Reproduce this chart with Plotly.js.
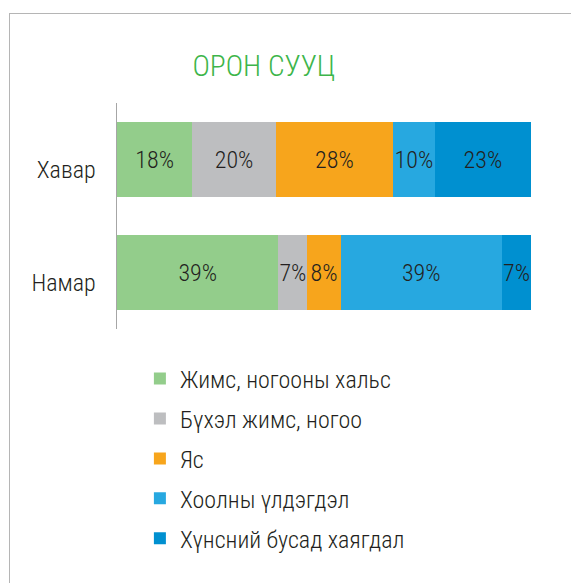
<!DOCTYPE html>
<html>
<head>
<meta charset="utf-8">
<script src="https://cdn.plot.ly/plotly-3.0.1.min.js"></script>
<style>
  html, body { margin: 0; padding: 0; background: #fff; }
  #wrap { position: relative; width: 571px; height: 583px; overflow: hidden; }
  #frame { position: absolute; left: 9px; top: 13px; width: 600px; height: 600px;
           border-top: 1px solid #b5b5b5; border-left: 1px solid #b5b5b5; pointer-events: none; }
  #chart { position: absolute; left: 0; top: 0; width: 571px; height: 583px; }
</style>
</head>
<body>
<div id="wrap">
  <div id="chart"></div>
  <div id="frame"></div>
</div>
<script>
const categories = ['Хавар', 'Намар'];
const seriesNames = ['Жимс, ногооны хальс', 'Бүхэл жимс, ногоо', 'Яс', 'Хоолны үлдэгдэл', 'Хүнсний бусад хаягдал'];
const fruitPeel = [18, 39];
const wholeFruit = [20, 7];
const bones = [28, 8];
const leftovers = [10, 39];
const otherFood = [23, 7];
const colors = ['#93cd8b', '#bdbec0', '#f7a51c', '#27a8e0', '#0090d0'];

const seriesValues = [fruitPeel, wholeFruit, bones, leftovers, otherFood];
const FONT = '"Roboto Condensed", "Open Sans", sans-serif';

const traces = seriesValues.map((vals, i) => ({
  type: 'bar',
  orientation: 'h',
  name: seriesNames[i],
  legendgroup: 'g' + i,
  y: categories,
  x: vals,
  text: vals.map(v => v + '%'),
  textposition: 'inside',
  insidetextanchor: 'middle',
  textangle: 0,
  constraintext: 'none',
  textfont: { family: FONT, size: 24, weight: 300, color: '#231f20' },
  marker: { color: colors[i], line: { width: 0 } },
  hoverinfo: 'none'
}));

const layout = {
  width: 571,
  height: 583,
  margin: { l: 117, r: 40, t: 103, b: 254, autoexpand: false },
  paper_bgcolor: '#ffffff',
  plot_bgcolor: '#ffffff',
  barmode: 'stack',
  barnorm: 'percent',
  bargap: 0.335,
  title: {
    text: 'ОРОН СУУЦ',
    font: { family: FONT, size: 29.5, weight: 300, color: '#3db54a' },
    x: 0.462, xref: 'container', xanchor: 'center',
    y: 0.887, yref: 'container', yanchor: 'middle'
  },
  xaxis: {
    range: [0, 100],
    showgrid: false, zeroline: false, showline: false,
    showticklabels: false, ticks: ''
  },
  yaxis: {
    autorange: 'reversed',
    automargin: false,
    showgrid: false, zeroline: false,
    showline: true, linecolor: '#a6a6a6', linewidth: 1.5,
    ticks: '', ticklabelstandoff: 15, ticklabelshift: -10,
    tickfont: { family: FONT, size: 24, weight: 300, color: '#231f20' }
  },
  showlegend: true,
  legend: {
    orientation: 'v',
    traceorder: 'grouped',
    tracegroupgap: 5.7,
    xref: 'container', yref: 'container',
    x: 0.245, xanchor: 'left',
    y: 0.3885, yanchor: 'top',
    font: { family: FONT, size: 24, weight: 300, color: '#231f20' },
    bgcolor: 'rgba(0,0,0,0)',
    itemclick: false, itemdoubleclick: false
  }
};

Plotly.newPlot('chart', traces, layout, { displayModeBar: false, staticPlot: true });
</script>
</body>
</html>
